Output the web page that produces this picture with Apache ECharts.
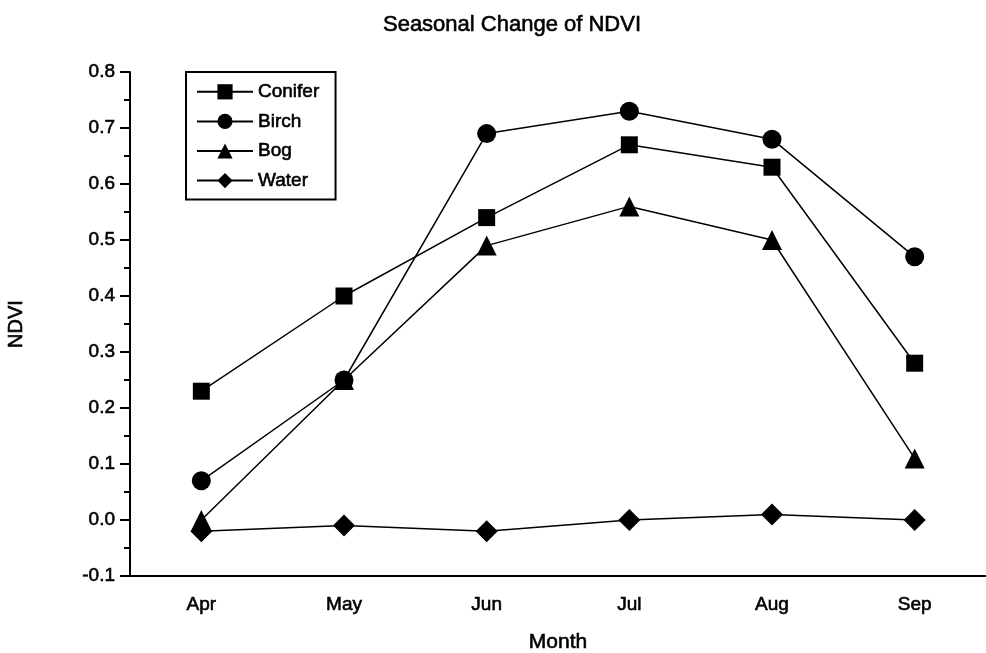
<!DOCTYPE html>
<html><head><meta charset="utf-8">
<script src="https://cdn.jsdelivr.net/npm/echarts@6/dist/echarts.min.js"></script>
<style>html,body{margin:0;padding:0;background:#fff}#c{width:986px;height:653px}</style>
</head><body><div id="c"></div>
<script>
var months = ['Apr','May','Jun','Jul','Aug','Sep'];
var conifer = [0.23,0.40,0.54,0.67,0.63,0.28];
var birch = [0.07,0.25,0.69,0.73,0.68,0.47];
var bog = [0.00,0.25,0.49,0.56,0.50,0.11];
var water = [-0.02,-0.01,-0.02,0.00,0.01,0.00];
var yTicks = [-0.1,0.8,0.1];

var F = 'Liberation Sans, Arial, sans-serif';
function ts(size){return {fontFamily:F,fontSize:size,fontWeight:'normal',color:'#000',textBorderColor:'#000',textBorderWidth:0.6};}
function ser(name, data, symbol, size){
  return {name:name,type:'line',data:data,symbol:symbol,symbolSize:size,
    lineStyle:{color:'#000',width:1.5},itemStyle:{color:'#000'},
    showAllSymbol:true,animation:false,z:3};
}
var chart = echarts.init(document.getElementById('c'));
chart.setOption({
  animation:false,
  title:{text:'Seasonal Change of NDVI',left:507,top:9,textAlign:'center',textStyle:ts(22)},
  grid:{left:130,right:0,top:72,bottom:77,outerBoundsMode:'none',containLabel:false},
  legend:{left:186,top:72,orient:'vertical',itemGap:10,itemWidth:56,itemHeight:19,
    borderColor:'#000',borderWidth:2,padding:[10,16,9,10],
    textStyle:ts(19),
    data:['Conifer','Birch','Bog','Water']},
  xAxis:[{type:'category',data:months,boundaryGap:true,
    name:'Month',nameLocation:'middle',nameGap:56,
    nameTextStyle:ts(21),
    axisLine:{onZero:false,lineStyle:{color:'#000',width:2}},
    axisTick:{alignWithLabel:true,inside:false,length:9,lineStyle:{color:'#000',width:2}},
    axisLabel:Object.assign(ts(19),{margin:19}),
    splitLine:{show:false}},
   {type:'category',data:months,boundaryGap:true,position:'bottom',
    axisLine:{show:false,onZero:false},axisTick:{length:6,lineStyle:{color:'#000',width:2}},
    axisLabel:{show:false},splitLine:{show:false}}],
  yAxis:{type:'value',min:yTicks[0],max:yTicks[1],interval:yTicks[2],
    name:'NDVI',nameLocation:'middle',nameGap:104,nameRotate:90,
    nameTextStyle:ts(20),
    axisLine:{show:true,lineStyle:{color:'#000',width:2}},
    axisTick:{show:true,length:10,lineStyle:{color:'#000',width:2}},
    minorTick:{show:true,splitNumber:2,length:6,lineStyle:{color:'#000',width:2}},
    axisLabel:Object.assign(ts(19),{margin:15,
      formatter:function(v){return v.toFixed(1);}}),
    splitLine:{show:false}},
  series:[ser('Conifer',conifer,'rect',17),ser('Birch',birch,'circle',19),
    ser('Bog',bog,'triangle',20),ser('Water',water,'diamond',22)]
});
</script></body></html>
